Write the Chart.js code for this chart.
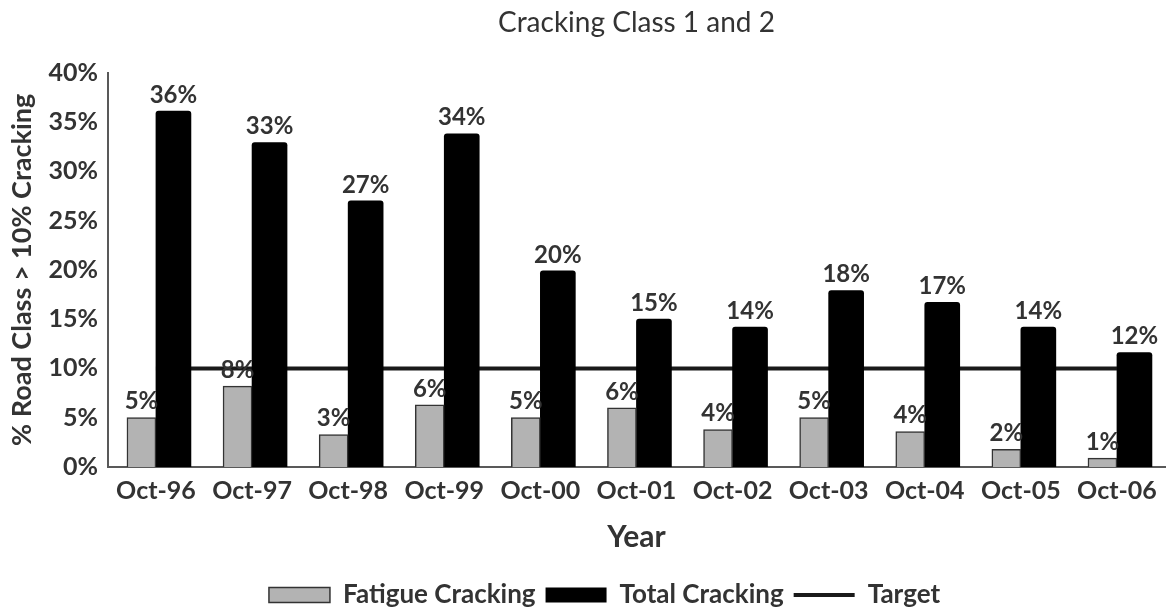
<!DOCTYPE html>
<html>
<head>
<meta charset="utf-8">
<script src="https://cdn.jsdelivr.net/npm/chart.js@4.4.1/dist/chart.umd.min.js"></script>
<style>
    html, body { margin: 0; padding: 0; background: #fff; }
    #chartHolder { width: 1170px; height: 611px; }
</style>
</head>
<body>
<div id="chartHolder"><canvas id="crackChart"></canvas></div>
<script>
// Survey years on the x axis
const years = ['Oct-96', 'Oct-97', 'Oct-98', 'Oct-99', 'Oct-00', 'Oct-01', 'Oct-02', 'Oct-03', 'Oct-04', 'Oct-05', 'Oct-06'];
// % of road class > 10% cracking
const fatigueCracking = [5.0, 8.2, 3.3, 6.3, 5.0, 6.0, 3.8, 5.0, 3.6, 1.8, 0.9];
const totalCracking = [36.1, 32.9, 27.0, 33.8, 19.9, 15.0, 14.2, 17.9, 16.7, 14.2, 11.6];
const targetLine = [10, 10, 10, 10, 10, 10, 10, 10, 10, 10, 10];
const yMin = 0;
const yMax = 40;
const yStep = 5;

const textColor = '#333';
const axisColor = '#595959';
const fontFamily = 'Lato, "Open Sans", sans-serif';

// Writes the rounded % value above each bar
const barValueLabels = {
    id: 'barValueLabels',
    afterLayout(chart) {
        // Reference legend sits a little right of and below the default spot
        chart.legend.left += 22;
        chart.legend.right += 22;
        chart.legend.top += 7;
        chart.legend.bottom += 7;
    },
    afterDatasetsDraw(chart) {
        const ctx = chart.ctx;
        ctx.save();
        ctx.font = 'bold 24px ' + fontFamily;
        ctx.fillStyle = textColor;
        ctx.textAlign = 'center';
        ctx.textBaseline = 'bottom';
        chart.data.datasets.forEach(function (ds, i) {
            if (ds.type !== 'bar') return;
            chart.getDatasetMeta(i).data.forEach(function (bar, j) {
                ctx.fillText(Math.round(ds.data[j]) + '%', bar.x, bar.y - 4);
            });
        });
        ctx.restore();
    }
};

const config = {
    type: 'bar',
    data: {
        labels: years,
        datasets: [
            {
                type: 'bar',
                label: 'Fatigue Cracking',
                data: fatigueCracking,
                backgroundColor: '#b3b3b3',
                borderColor: '#333',
                borderWidth: 1.5,
                barThickness: 29,
                order: 1
            },
            {
                type: 'bar',
                label: 'Total Cracking',
                data: totalCracking,
                backgroundColor: '#000',
                borderColor: '#000',
                borderWidth: 0,
                borderRadius: 3,
                borderSkipped: 'bottom',
                barThickness: 35,
                order: 2
            },
            {
                type: 'line',
                label: 'Target',
                data: targetLine,
                borderColor: '#1a1a1a',
                backgroundColor: '#1a1a1a',
                borderWidth: 4,
                pointRadius: 0,
                fill: false,
                order: 3 // drawn first, behind the bars
            }
        ]
    },
    options: {
        responsive: true,
        maintainAspectRatio: false,
        animation: false,
        layout: {
            padding: { left: 0, right: 5, top: 0, bottom: 0 }
        },
        scales: {
            x: {
                grid: { display: false, drawTicks: false },
                border: { display: true, color: axisColor, width: 2 },
                ticks: {
                    color: textColor,
                    padding: 9,
                    maxRotation: 0,
                    font: { family: fontFamily, size: 25, weight: 'bold' }
                },
                title: {
                    display: true,
                    text: 'Year',
                    color: textColor,
                    padding: { top: 4, bottom: 10 },
                    font: { family: fontFamily, size: 30, weight: 'bold' }
                }
            },
            y: {
                min: yMin,
                max: yMax,
                grid: { display: false, drawTicks: false },
                border: { display: true, color: axisColor, width: 2 },
                ticks: {
                    stepSize: yStep,
                    color: textColor,
                    padding: 10,
                    font: { family: fontFamily, size: 25, weight: 'bold' },
                    callback: function (value) {
                        return value + '%';
                    }
                },
                title: {
                    display: true,
                    text: '% Road Class > 10% Cracking',
                    color: textColor,
                    padding: { top: 6, bottom: 0 },
                    font: { family: fontFamily, size: 27, weight: 'bold' }
                }
            }
        },
        plugins: {
            title: {
                display: true,
                fullSize: false, // centred over the plot area
                text: 'Cracking Class 1 and 2',
                color: textColor,
                padding: { top: 6, bottom: 33 },
                font: { family: fontFamily, size: 28, weight: 'normal' }
            },
            legend: {
                position: 'bottom',
                labels: {
                    color: textColor,
                    usePointStyle: true,
                    pointStyleWidth: 61,
                    boxHeight: 15,
                    padding: 10,
                    font: { family: fontFamily, size: 26, weight: 'bold' },
                    generateLabels: function (chart) {
                        const items = Chart.defaults.plugins.legend.labels.generateLabels(chart);
                        items.forEach(function (item) {
                            item.pointStyle = item.text === 'Target' ? 'line' : 'rect';
                            if (item.text === 'Target') item.lineWidth = 4;
                        });
                        return items;
                    }
                }
            },
            tooltip: { enabled: false }
        }
    },
    plugins: [barValueLabels]
};

new Chart(document.getElementById('crackChart').getContext('2d'), config);
</script>
</body>
</html>
